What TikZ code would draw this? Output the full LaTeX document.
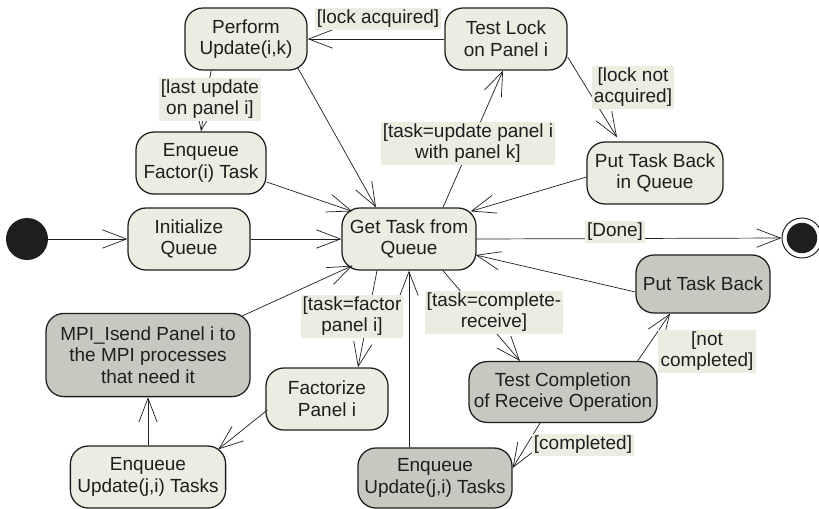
\documentclass[tikz,border=0pt]{standalone}
\usepackage{fontspec}
\setmainfont{Liberation Sans}
\usetikzlibrary{arrows.meta}
\definecolor{statefill}{RGB}{236, 236, 224}
\definecolor{mpifill}{RGB}{200, 200, 192}
\definecolor{inkgray}{RGB}{30, 30, 30}
\tikzset{
  state/.style={draw=inkgray, line width=0.9pt, rounded corners=0.45cm, fill=statefill, align=center, inner sep=1pt, minimum width=3.05cm, minimum height=1.55cm, font=\fontsize{13.5}{15.5}\selectfont, text=inkgray},
  mpistate/.style={state, fill=mpifill},
  guard/.style={fill=statefill, align=center, inner sep=1.5pt, font=\fontsize{13.5}{15}\selectfont, text=inkgray},
  flow/.style={draw=inkgray, line width=0.5pt, -{Straight Barb[length=6mm, width=4.6mm]}},
}

\begin{document}
\begin{tikzpicture}[x=0.025cm, y=-0.025cm]
  \useasboundingbox (0, 0) rectangle (819, 508);

  % Upper states
  \node[state] (perf) at (246, 39) {Perform\\Update(i,k)};
  \node[state] (lock) at (506, 39) {Test Lock\\on Panel i};
  \node[state, minimum width=3.25cm] (enqf) at (201, 163) {Enqueue\\Factor(i) Task};
  \node[state, minimum width=3.4cm] (putq) at (655, 173) {Put Task Back\\in Queue};

  % Main row
  \node[circle, fill=inkgray, minimum size=1.05cm, inner sep=0pt] (start) at (27, 239) {};
  \node[state] (init) at (189, 239) {Initialize\\Queue};
  \node[state, minimum width=3.35cm] (get) at (409, 239) {Get Task from\\Queue};
  \node[circle, draw=inkgray, line width=0.7pt, fill=white, minimum size=1cm, inner sep=0pt] (fin) at (802, 238) {};
  \fill[inkgray] (fin.center) circle[radius=0.38cm];

  % Lower states
  \node[mpistate, minimum width=3.35cm, minimum height=1.45cm] (putb) at (703, 284) {Put Task Back};
  \node[mpistate, minimum width=5.1cm, minimum height=2.08cm] (mpi) at (148, 355) {MPI\_Isend Panel i to\\the MPI processes\\that need it};
  \node[state] (fact) at (327, 399) {Factorize\\Panel i};
  \node[mpistate, minimum width=4.7cm, minimum height=1.52cm] (tcomp) at (563, 392) {Test Completion\\of Receive Operation};
  \node[state, minimum width=3.88cm] (enql) at (148, 477) {Enqueue\\Update(j,i) Tasks};
  \node[mpistate, minimum width=3.85cm, minimum height=1.5cm] (enqr) at (435, 478) {Enqueue\\Update(j,i) Tasks};

  % Transitions
  \draw[flow] (start) -- (init);
  \draw[flow] (init) -- (get);
  \draw[flow] ([shift={(0,19)}]enqf.east) -- ([shift={(11,4)}]get.north west);
  \draw[flow] ([shift={(-10,-3)}]perf.south east) -- ([shift={(-33,0)}]get.north);
  \draw[flow] ([shift={(34,0)}]get.north) -- ([shift={(-3,0)}]lock.south);
  \draw[flow] (lock) -- (perf);
  \draw[flow] ([shift={(0,18)}]lock.east) -- ([shift={(-38,-4)}]putq.north);
  \draw[flow] ([shift={(0,4)}]putq.west) -- ([shift={(-6,4)}]get.north east);
  \draw[flow] (get.east) -- (fin.west);
  \draw[flow] ([shift={(-35,0)}]perf.south) -- (enqf.north);
  \draw[flow] ([shift={(-8,3)}]mpi.north east) -- ([shift={(11,-5)}]get.south west);
  \draw[flow] ([shift={(-32,0)}]get.south) -- ([shift={(31,0)}]fact.north);
  \draw[flow] ([shift={(2,11)}]fact.west) -- ([shift={(-8,4)}]enql.north east);
  \draw[flow] (enql) -- (mpi);
  \draw[flow] ([shift={(-26,0)}]enqr.north) -- (get.south);
  \draw[flow] ([shift={(34,0)}]get.south) -- ([shift={(-43,0)}]tcomp.north);
  \draw[flow] ([shift={(-20,0)}]tcomp.north east) -- ([shift={(-33,0)}]putb.south);
  \draw[flow] ([shift={(0,8)}]putb.west) -- ([shift={(-1,16)}]get.east);
  \draw[flow] ([shift={(-23,0)}]tcomp.south) -- ([shift={(0,-10)}]enqr.east);

  % Guards
  \node[guard] (gacq) at (378, 19) {[lock acquired]};
  \node[guard] (glast) at (210, 99) {[last update\\on panel i]};
  \node[guard] (gupd) at (468, 143) {[task=update panel i\\with panel k]};
  \node[guard] (gnot) at (633, 87) {[lock not\\acquired]};
  \node[guard] (gdone) at (615, 232) {[Done]};
  \node[guard] (gfact) at (352, 316) {[task=factor\\panel i]};
  \node[guard] (gcomp) at (494, 312) {[task=complete-\\receive]};
  \node[guard] (gnotc) at (707, 351) {[not\\completed]};
  \node[guard] (gcpl) at (583, 445) {[completed]};
\end{tikzpicture}
\end{document}
